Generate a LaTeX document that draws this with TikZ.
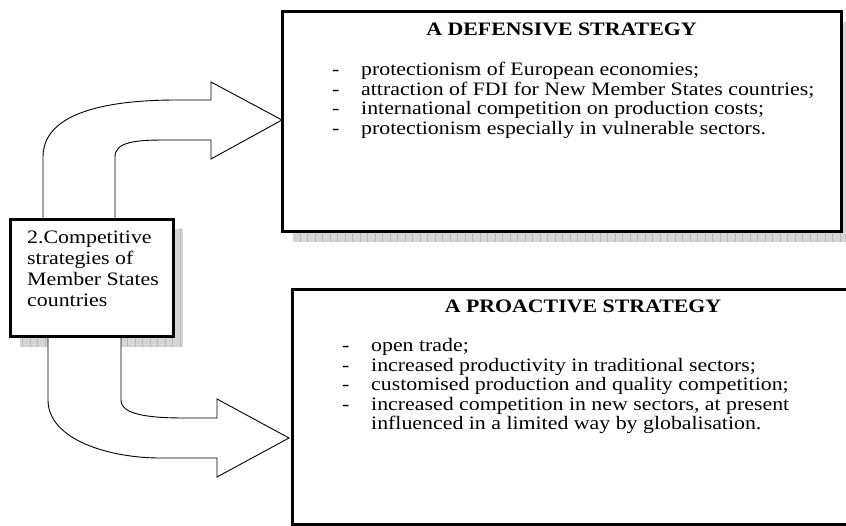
\documentclass[tikz,border=0pt]{standalone}
\usepackage{fontspec}
\setmainfont{Liberation Serif}[FakeStretch=1.15]
\usepackage{array}
\begin{document}
\begin{tikzpicture}[x=1pt,y=-1pt,
  boxline/.style={draw=black,line width=3pt,fill=white},
  blockarrow/.style={draw=black,line width=0.9pt,fill=white,line join=miter},
  txt/.style={inner sep=0pt,font=\fontsize{19}{19.5}\selectfont},
  ttl/.style={inner sep=0pt,font=\fontsize{19}{19.5}\selectfont\bfseries}]
\useasboundingbox (0,0) rectangle (846,526);
% shadows
\begin{scope}
\clip (20,229) rectangle (183,347);
\fill[gray!32] (20,229) rectangle (183,347);
\draw[gray!55,line width=0.4pt,step=7.5] (15,225) grid (190,350);
\end{scope}
\begin{scope}
\clip (293,22) rectangle (852,242);
\fill[gray!32] (293,22) rectangle (852,242);
\draw[gray!55,line width=0.4pt,step=7.5] (290,20) grid (855,245);
\end{scope}
% arrows
\draw[blockarrow] (43,220) -- (43,157) .. controls (43,115) and (100,100) .. (177,100) -- (211,100)
  -- (211,82) -- (282,120) -- (211,159) -- (211,140) -- (165,140)
  .. controls (135,140) and (115,142) .. (115,157) -- (115,220) -- cycle;
\draw[blockarrow] (48,337) -- (48,400) .. controls (48,440) and (110,458) .. (160,458) -- (217,458)
  -- (217,477) -- (289,438) -- (217,399) -- (217,418) -- (185,418)
  .. controls (150,418) and (121,415) .. (121,400) -- (121,337) -- cycle;
% boxes
\draw[boxline] (10,220) rectangle (173,337);
\node[coordinate] (src) at (91.5,278.5) {};
\draw[boxline] (282,12) rectangle (841,232);
\node[coordinate] (def) at (561.5,122) {};
\draw[boxline] (292,290) rectangle (880,524);
\node[coordinate] (pro) at (586,407) {};
% texts
\node[txt,anchor=base west,font=\fontsize{19}{21}\selectfont] (srctext) at (27,244)
 {\begin{tabular}[t]{@{}l@{}}2.Competitive\\ strategies of\\ Member States\\ countries\end{tabular}};
\node[ttl,anchor=base] (deftitle) at (561.5,35.5) {A DEFENSIVE STRATEGY};
\node[txt,anchor=base west] (deflist) at (332,76)
 {\begin{tabular}[t]{@{}p{29pt}@{}l@{}}
 -&protectionism of European economies;\\
 -&attraction of FDI for New Member States countries;\\
 -&international competition on production costs;\\
 -&protectionism especially in vulnerable sectors.
 \end{tabular}};
\node[ttl,anchor=base] (protitle) at (583,312.5) {A PROACTIVE STRATEGY};
\node[txt,anchor=base west] (prolist) at (342,352)
 {\begin{tabular}[t]{@{}p{29pt}@{}l@{}}
 -&open trade;\\
 -&increased productivity in traditional sectors;\\
 -&customised production and quality competition;\\
 -&increased competition in new sectors, at present\\
  &influenced in a limited way by globalisation.
 \end{tabular}};
\end{tikzpicture}
\end{document}
